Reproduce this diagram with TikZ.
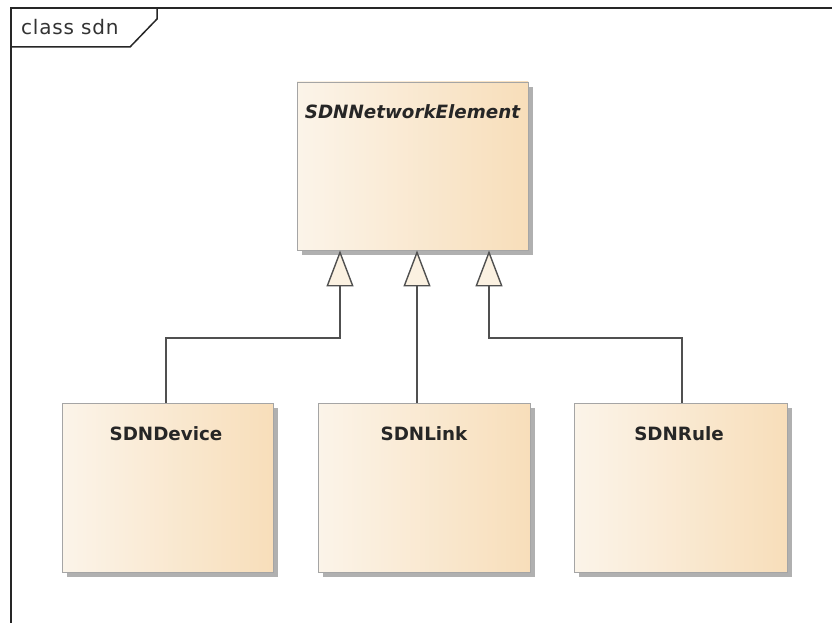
\documentclass[tikz,border=0pt]{standalone}
\usepackage{fontspec}
\setmainfont{DejaVu Sans}
\usetikzlibrary{arrows.meta,shadows,calc}
\definecolor{clsleft}{RGB}{251,244,233}
\definecolor{clsright}{RGB}{248,222,186}
\definecolor{clsedge}{RGB}{165,165,165}
\definecolor{lineclr}{RGB}{80,80,80}
\definecolor{tricream}{RGB}{251,241,225}
\definecolor{shade}{RGB}{176,176,176}
\tikzset{
  cls/.style={draw=clsedge, line width=0.9pt, left color=clsleft, right color=clsright,
    shading angle=90, rectangle, inner sep=0pt,
    drop shadow={shadow xshift=5pt, shadow yshift=-5pt, fill=shade, opacity=1}},
  clsname/.style={font=\bfseries\fontsize{18.3}{21}\selectfont, text=black!85},
  gen/.style={draw=lineclr, line width=1.4pt,
    -{Triangle[open, width=27pt, length=36pt, line width=1.4pt, fill=tricream]}},
  frameline/.style={draw=black!85, line width=1.5pt}
}
\begin{document}
\begin{tikzpicture}[x=1pt, y=-1pt]
\useasboundingbox (0,0) rectangle (832,623);
\fill[white] (0,0) rectangle (832,623);

% diagram frame with its name tab
\draw[frameline] (11,623) -- (11,8) -- (832,8);
\draw[frameline] (11,47) -- (130,47) -- (157,19) -- (157,8);
\node[anchor=base west, inner sep=0pt, font=\addfontfeature{LetterSpace=4}\fontsize{20}{24}\selectfont, text=black!80] (title) at (21,35) {class sdn};

% classes
\node[cls, minimum width=231pt, minimum height=168pt] (ne) at (412.5,166) {};
\node[clsname, font=\bfseries\itshape\fontsize{18.3}{21}\selectfont, anchor=base] (nelbl) at (412.5,118) {SDNNetworkElement};

\node[cls, minimum width=211pt, minimum height=169pt] (dev) at (167.5,487.5) {};
\node[clsname, anchor=base] (devlbl) at (166,440) {SDNDevice};

\node[cls, minimum width=212pt, minimum height=169pt] (lnk) at (424,487.5) {};
\node[clsname, anchor=base] (lnklbl) at (424,440) {SDNLink};

\node[cls, minimum width=213pt, minimum height=169pt] (rul) at (680.5,487.5) {};
\node[clsname, anchor=base] (rullbl) at (679,440) {SDNRule};

% generalisation connectors
\coordinate (jd) at (340,338);
\coordinate (jl) at (417,338);
\coordinate (jr) at (489,338);
\draw[gen] (dev.north -| 166,0) |- (jd) -- (jd |- ne.south);
\draw[gen] (lnk.north -| jl) -- (jl |- ne.south);
\draw[gen] (rul.north -| 682,0) |- (jr) -- (jr |- ne.south);
\end{tikzpicture}
\end{document}
